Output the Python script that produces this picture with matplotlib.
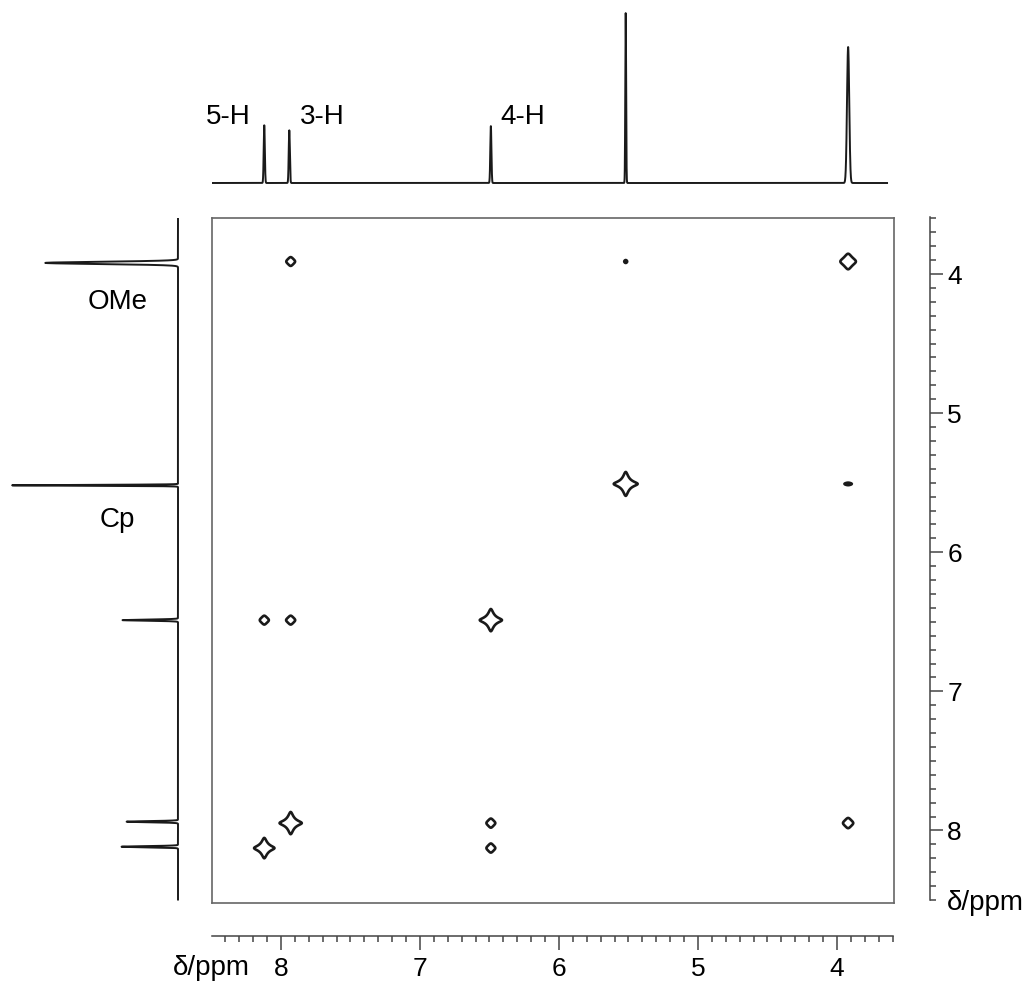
import numpy as np
import matplotlib.pyplot as plt
from matplotlib.ticker import MultipleLocator

plt.rcParams['font.family'] = ['Liberation Sans', 'DejaVu Sans']

# =====================
# 1. 数据
# =====================
# 1D spectrum: 5-H, 3-H, 4-H, Cp, OMe
shift = [8.12, 7.94, 6.49, 5.52, 3.92]
height = [0.34, 0.31, 0.335, 1.0, 0.80]
sigma = [0.004, 0.004, 0.004, 0.003, 0.008]
peak_label = ['5-H', '3-H', '4-H']

# 2D cross peaks (F2 = x, F1 = y)
cross_f2 = [7.93, 5.52, 3.92, 5.52, 3.92, 8.12, 7.93, 6.49, 7.93, 6.49, 3.92, 8.12, 6.49]
cross_f1 = [3.91, 3.91, 3.91, 5.51, 5.51, 6.49, 6.49, 6.49, 7.95, 7.95, 7.95, 8.13, 8.13]
cross_amp = [3.5, 1.5, 6.0, 30, 1.8, 3.5, 3.5, 26, 26, 3.5, 3.8, 22, 3.5]
cross_wx = [0.02, 0.015, 0.025, 0.016, 0.03, 0.02, 0.02, 0.016, 0.016, 0.02, 0.022, 0.016, 0.02]
cross_wy = [0.02, 0.015, 0.025, 0.016, 0.01, 0.02, 0.02, 0.016, 0.016, 0.02, 0.022, 0.016, 0.02]

X_LIM = (8.496, 3.59)
Y_LIM = (8.525, 3.597)

# =====================
# 2. 画布
# =====================
W, H = 1033, 986
fig = plt.figure(figsize=(W / 100, H / 100), dpi=100)


def box(l, t, r, b):
    return [l / W, 1 - b / H, (r - l) / W, (b - t) / H]


def spectrum(grid):
    s = np.zeros_like(grid)
    for p, h, w in zip(shift, height, sigma):
        s += h * np.exp(-0.5 * ((grid - p) / w) ** 2)
    return s


line_c = '#1a1a1a'
axis_c = '#444444'

# 2D contour box
ax = fig.add_axes(box(212, 218, 894, 903))
xg = np.linspace(X_LIM[1], X_LIM[0], 1400)
yg = np.linspace(Y_LIM[1], Y_LIM[0], 1400)
Z = np.zeros((len(yg), len(xg)))
for x0, y0, a, wx, wy in zip(cross_f2, cross_f1, cross_amp, cross_wx, cross_wy):
    lx = 1 / (1 + ((xg - x0) / wx) ** 2)
    ly = 1 / (1 + ((yg - y0) / wy) ** 2)
    Z += a * np.outer(ly, lx)
ax.contour(xg, yg, Z, levels=[1.0], colors=line_c, linewidths=1.9)
ax.set_xlim(*X_LIM)
ax.set_ylim(*Y_LIM)
ax.set_xticks([])
ax.set_yticks([])
for sp in ax.spines.values():
    sp.set_color('#666666')
    sp.set_linewidth(1.2)

# top projection
ax_t = fig.add_axes(box(212, 5, 894, 190))
gt = np.linspace(X_LIM[0], 3.64, 8000)
ax_t.plot(gt, spectrum(gt), color=line_c, lw=1.4)
ax_t.set_xlim(*X_LIM)
ax_t.set_ylim(-7 / 170, 178 / 170)
ax_t.axis('off')

# left projection
ax_l = fig.add_axes(box(0, 218, 190, 903))
gl = np.linspace(3.59, 8.50, 8000)
ax_l.plot(-spectrum(gl), gl, color=line_c, lw=1.4)
ax_l.set_ylim(*Y_LIM)
ax_l.set_xlim(-178 / 166, 12 / 166)
ax_l.axis('off')

# right scale
ax_r = fig.add_axes(box(920, 217, 930, 900))
ax_r.set_ylim(8.50, 3.59)
for k in ['left', 'top', 'bottom']:
    ax_r.spines[k].set_visible(False)
ax_r.spines['right'].set_color(axis_c)
ax_r.spines['right'].set_linewidth(1.1)
ax_r.set_xticks([])
ax_r.yaxis.tick_right()
ax_r.yaxis.set_major_locator(MultipleLocator(1))
ax_r.yaxis.set_minor_locator(MultipleLocator(0.1))
ax_r.tick_params(axis='y', which='major', direction='out', length=9.5, width=1.1,
                 color=axis_c, labelsize=19, pad=3)
ax_r.tick_params(axis='y', which='minor', direction='out', length=4, width=1.1, color=axis_c)
ax_r.patch.set_visible(False)

# bottom scale
ax_b = fig.add_axes(box(212, 925, 893, 936))
ax_b.set_xlim(X_LIM[0], 3.597)
for k in ['left', 'top', 'right']:
    ax_b.spines[k].set_visible(False)
ax_b.spines['bottom'].set_color(axis_c)
ax_b.spines['bottom'].set_linewidth(1.1)
ax_b.set_yticks([])
ax_b.xaxis.set_major_locator(MultipleLocator(1))
ax_b.xaxis.set_minor_locator(MultipleLocator(0.1))
ax_b.tick_params(axis='x', which='major', direction='out', length=10, width=1.1,
                 color=axis_c, labelsize=19, pad=5)
ax_b.tick_params(axis='x', which='minor', direction='out', length=4, width=1.1, color=axis_c)
ax_b.patch.set_visible(False)

# =====================
# 3. 文字
# =====================
fs = 20
for lab, (px, py) in zip(peak_label, [(228, 117), (322, 117), (523, 117)]):
    fig.text(px / W, 1 - py / H, lab, ha='center', va='center', fontsize=fs)
fig.text(118 / W, 1 - 302 / H, 'OMe', ha='center', va='center', fontsize=fs)
fig.text(117 / W, 1 - 520 / H, 'Cp', ha='center', va='center', fontsize=fs)
fig.text(250 / W, 1 - 968 / H, 'δ/ppm', ha='right', va='center', fontsize=fs)
fig.text(947 / W, 1 - 903 / H, 'δ/ppm', ha='left', va='center', fontsize=fs)

plt.savefig('out.png', dpi=100)
